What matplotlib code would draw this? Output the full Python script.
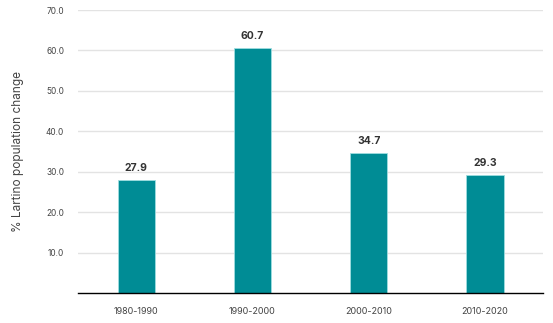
import matplotlib
matplotlib.use("Agg")
import matplotlib.pyplot as plt

decades = ["1980-1990", "1990-2000", "2000-2010", "2010-2020"]
change = [27.9, 60.7, 34.7, 29.3]
yticks = [10, 20, 30, 40, 50, 60, 70]

plt.rcParams['font.family'] = ['Inter', 'DejaVu Sans']

fig = plt.figure(figsize=(5.53, 3.23), dpi=100)
ax = fig.add_axes([0.141, 0.093, 0.841, 0.876])

bars = ax.bar(range(len(decades)), change, width=0.32, color='#008C95',
              edgecolor='#9fdde0', linewidth=0.6, zorder=3)
for i, v in enumerate(change):
    ax.text(i, v + 1.7, f"{v:.1f}", ha='center', va='bottom',
            fontsize=7.5, fontweight='bold', color='#333333')

ax.set_xlim(-0.5, 3.5)
ax.set_ylim(0, 70)
ax.set_yticks(yticks)
ax.set_yticklabels([f"{t:.1f}" for t in yticks])
ax.set_xticks(range(len(decades)))
ax.set_xticklabels(decades)
ax.tick_params(axis='y', length=0, pad=10, labelsize=6, labelcolor='#444444')
ax.tick_params(axis='x', length=0, pad=10, labelsize=6.5, labelcolor='#444444')
ax.grid(axis='y', color='#e3e3e3', linewidth=1, zorder=0)
for s in ['top', 'right', 'left']:
    ax.spines[s].set_visible(False)
ax.spines['bottom'].set_color('black')
ax.spines['bottom'].set_linewidth(1)
ax.spines['bottom'].set_zorder(4)
ax.set_ylabel("% Lartino population change", fontsize=8.5, color='#444444', labelpad=16)

fig.savefig("out.png", dpi=100)
